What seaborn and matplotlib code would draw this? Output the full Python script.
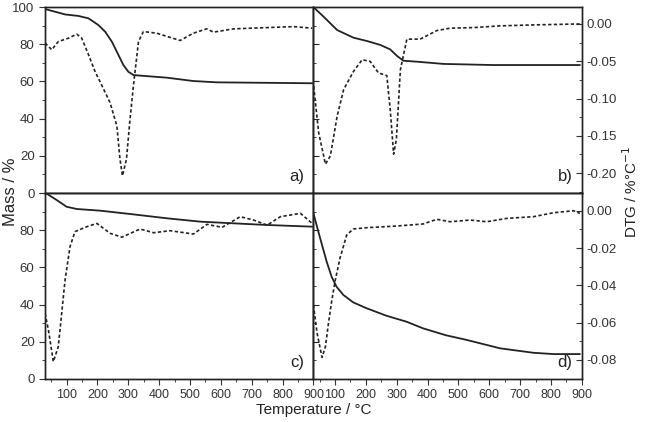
import numpy as np
import matplotlib
matplotlib.use("Agg")
import matplotlib.pyplot as plt
import seaborn as sns
from matplotlib.ticker import MultipleLocator

# panel a)
a_mass_t = [30, 62, 95, 138, 171, 203, 225, 247, 268, 284, 300, 317, 355, 425,
            511, 587, 896]
a_mass = [98.9, 97.5, 96, 95.2, 93.9, 90.3, 86.7, 81.3, 74.2, 68.8, 65.2, 63.4,
          62.9, 62, 60.2, 59.5, 59]
a_dtg_t = [30, 52, 73, 106, 133, 149, 171, 192, 209, 241, 263, 273, 281, 294,
           305, 317, 333, 349, 392, 468, 511, 554, 576, 641, 750, 836, 896]
a_dtg = [-0.0257, -0.0346, -0.0236, -0.0191, -0.0137, -0.0191, -0.0413, -0.0636,
         -0.0780, -0.1057, -0.137, -0.1813, -0.2036, -0.1813, -0.130, -0.0813,
         -0.0236, -0.0102, -0.0124, -0.0222, -0.0124, -0.0066, -0.011, -0.0066,
         -0.0049, -0.0036, -0.0057]

# panel b)
b_mass_t = [31, 63, 107, 160, 204, 247, 279, 301, 322, 366, 452, 613, 894]
b_mass = [99.8, 94.8, 87.6, 83.5, 81.7, 79.6, 77.2, 73.7, 71.1, 70.6, 69.4, 68.8, 68.8]
b_dtg_t = [31, 47, 69, 85, 107, 128, 160, 188, 214, 241, 268, 279, 290, 299, 312,
           333, 376, 430, 473, 549, 635, 743, 894]
b_dtg = [-0.0836, -0.1457, -0.188, -0.1769, -0.1236, -0.088, -0.0636, -0.048,
         -0.0502, -0.0657, -0.0693, -0.1146, -0.1746, -0.1546, -0.0613, -0.0204,
         -0.0204, -0.0089, -0.0057, -0.0049, -0.0026, -0.0013, 0.0]

# panel c)
c_mass_t = [30, 68, 100, 133, 209, 317, 425, 533, 641, 750, 896]
c_mass = [100.2, 96.2, 92.6, 91.4, 90.5, 88.5, 86.4, 84.6, 83.7, 82.8, 81.9]
c_dtg_t = [30, 41, 57, 73, 95, 111, 127, 165, 198, 241, 279, 338, 382, 436, 511,
           555, 604, 663, 706, 750, 793, 858, 896]
c_dtg = [-0.055, -0.0639, -0.0809, -0.0729, -0.0371, -0.0193, -0.0112, -0.0086,
         -0.0068, -0.0121, -0.0142, -0.0098, -0.0118, -0.0107, -0.0125, -0.0073,
         -0.0089, -0.0032, -0.005, -0.0077, -0.0032, -0.0014, -0.0068]

# panel d)
d_mass_t = [30, 52, 73, 89, 105, 127, 159, 203, 267, 332, 386, 460, 527, 635,
            743, 808, 894]
d_mass = [89.1, 75.6, 63.1, 55, 49.6, 45.2, 41.2, 38, 34, 30.8, 27.2, 23.5, 21,
          16.5, 14.1, 13.4, 13.4]
d_dtg_t = [30, 42, 58, 69, 79, 89, 100, 116, 138, 159, 203, 300, 386, 430, 473,
           538, 592, 657, 743, 808, 873, 894]
d_dtg = [-0.0505, -0.0657, -0.0786, -0.0729, -0.060, -0.0488, -0.038, -0.0255,
         -0.013, -0.0098, -0.0091, -0.0082, -0.0071, -0.0046, -0.0059, -0.005,
         -0.0059, -0.0041, -0.0032, -0.0011, 0.0, -0.0014]

panels = [
    ("a)", a_mass_t, a_mass, a_dtg_t, a_dtg),
    ("b)", b_mass_t, b_mass, b_dtg_t, b_dtg),
    ("c)", c_mass_t, c_mass, c_dtg_t, c_dtg),
    ("d)", d_mass_t, d_mass, d_dtg_t, d_dtg),
]

sns.set_style("ticks")
plt.rcParams['font.family'] = ['Liberation Sans', 'DejaVu Sans']

fig, axes = plt.subplots(2, 2, figsize=(6.45, 4.22), dpi=100)
fig.subplots_adjust(left=0.0698, right=0.902, top=0.9834, bottom=0.1019,
                    wspace=0, hspace=0)

ink = '#222222'
tick_col = '#333333'
dtg_lims = [(-0.2267, 0.0227), (-0.0902, 0.0095)]

for i, (lab, mt, mv, dt, dv) in enumerate(panels):
    r, c = divmod(i, 2)
    ax = axes[r, c]
    ax2 = ax.twinx()
    sns.lineplot(x=mt, y=mv, ax=ax, color=ink, linewidth=1.3)
    sns.lineplot(x=dt, y=dv, ax=ax2, color=ink, linewidth=1.2,
                 linestyle=(0, (2, 1.4)))
    ax.set_xlim(30, 900)
    ax.set_ylim(0, 100)
    ax2.set_ylim(*dtg_lims[r])
    ax.set_xlabel("")
    ax.set_ylabel("")
    ax2.set_ylabel("")

    ax.xaxis.set_major_locator(MultipleLocator(100))
    ax.xaxis.set_minor_locator(MultipleLocator(50))
    ax.yaxis.set_major_locator(MultipleLocator(20))
    ax.yaxis.set_minor_locator(MultipleLocator(10))
    if r == 0:
        ax2.yaxis.set_major_locator(MultipleLocator(0.05))
        ax2.yaxis.set_minor_locator(MultipleLocator(0.025))
    else:
        ax2.yaxis.set_major_locator(MultipleLocator(0.02))
        ax2.yaxis.set_minor_locator(MultipleLocator(0.01))

    ax.tick_params(axis='x', which='major', direction='out', length=4,
                   labelsize=9, colors=tick_col, labelbottom=(r == 1))
    ax.tick_params(axis='x', which='minor', direction='out', length=2)
    ax.set_xticks([100, 200, 300, 400, 500, 600, 700, 800, 900])
    if c == 0:
        ax.tick_params(axis='y', which='major', direction='out', length=4,
                       labelsize=9.5, colors=tick_col)
        ax.tick_params(axis='y', which='minor', direction='out', length=2)
        if r == 1:
            ax.set_yticks([0, 20, 40, 60, 80, 100])
            ax.set_yticklabels(['0', '20', '40', '60', '80', ''])
        ax2.tick_params(axis='y', which='both', right=False, labelright=False)
    else:
        ax.tick_params(axis='y', which='major', direction='in', length=4,
                       labelleft=False)
        ax.tick_params(axis='y', which='minor', direction='in', length=2)
        ax2.tick_params(axis='y', which='major', direction='in', length=4,
                        labelsize=9.5, colors=tick_col)
        ax2.tick_params(axis='y', which='minor', direction='in', length=2)
        ax2.yaxis.set_major_formatter(plt.FuncFormatter(
            lambda v, p: '0.00' if abs(v) < 1e-9 else '{:.2f}'.format(v)))
    for a in (ax, ax2):
        for s in a.spines.values():
            s.set_linewidth(1.0)
            s.set_color(ink)
    ax.text(0.965, 0.05, lab, transform=ax.transAxes, ha='right', va='bottom',
            fontsize=12, color=ink)

fig.text(0.016, 0.545, "Mass / %", rotation=90, ha='center', va='center',
         fontsize=12, color=ink)
fig.text(0.978, 0.545, "DTG / %°C$^{-1}$", rotation=90, ha='center', va='center',
         fontsize=11, color=ink)
fig.text(0.486, 0.028, "Temperature / °C", ha='center', va='center',
         fontsize=11, color=ink)

fig.savefig("out.png", dpi=100)
